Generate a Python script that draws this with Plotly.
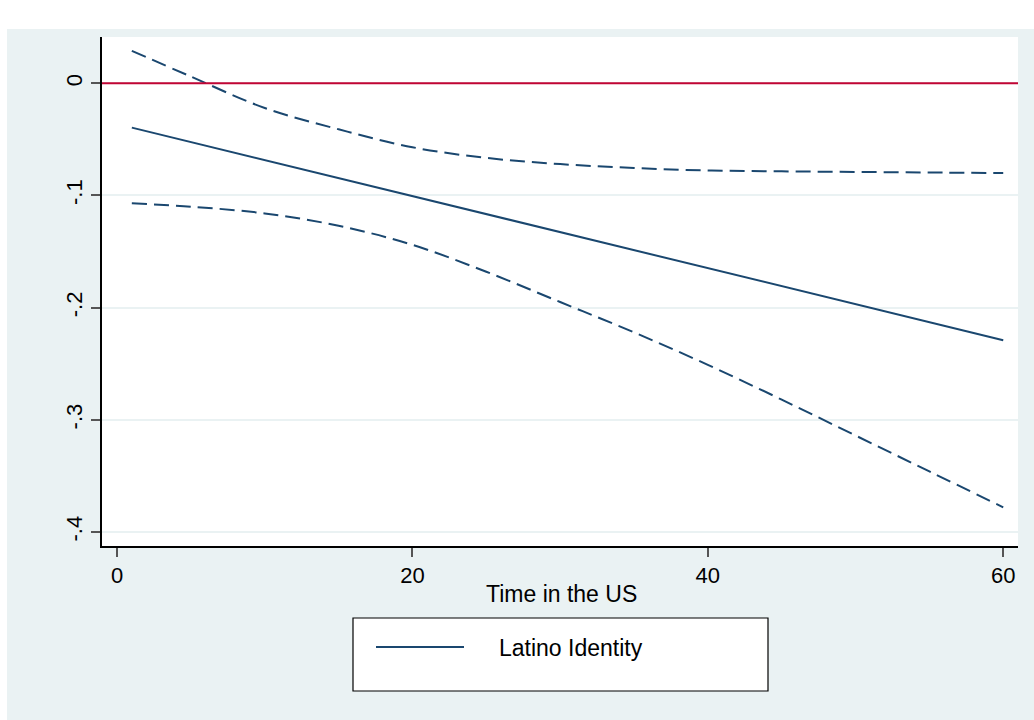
import plotly.graph_objects as go

# Data
time_us = [1, 5, 10, 15, 20, 25, 30, 35, 40, 45, 50, 55, 60]
latino_identity = [-0.0395, -0.0523, -0.0684, -0.0844, -0.1005, -0.1166, -0.1326,
                   -0.1487, -0.1647, -0.1808, -0.1968, -0.2129, -0.2290]
upper_ci = [0.029, 0.006, -0.022, -0.041, -0.057, -0.0665, -0.072, -0.0755,
            -0.0777, -0.0785, -0.079, -0.0795, -0.080]
lower_ci = [-0.107, -0.110, -0.116, -0.127, -0.144, -0.168, -0.195, -0.222,
            -0.251, -0.282, -0.314, -0.346, -0.378]

x_ticks = [0, 20, 40, 60]
y_ticks = [0, -0.1, -0.2, -0.3, -0.4]
y_tick_labels = ["0", "-.1", "-.2", "-.3", "-.4"]

NAVY = "#1A476F"
RED = "#C10534"
BG = "#EAF2F3"
FONT = "Liberation Sans, Arial, sans-serif"

fig = go.Figure()
fig.add_trace(go.Scatter(x=time_us, y=upper_ci, mode="lines", line_shape="spline",
                         line=dict(color=NAVY, width=2, dash="15px,7px"), showlegend=False))
fig.add_trace(go.Scatter(x=time_us, y=lower_ci, mode="lines", line_shape="spline",
                         line=dict(color=NAVY, width=2, dash="15px,7px"), showlegend=False))
fig.add_trace(go.Scatter(x=time_us, y=latino_identity, mode="lines",
                         line=dict(color=NAVY, width=2), name="Latino Identity",
                         showlegend=False))

shapes = [
    # reference line at zero
    dict(type="line", xref="paper", yref="y", x0=0, x1=1, y0=0, y1=0,
         line=dict(color=RED, width=2), layer="above"),
    # white strips at top and left of the page
    dict(type="rect", xref="paper", yref="paper", x0=-0.2, x1=1.1,
         y0=(546 - 29) / 509, y1=1.2, fillcolor="white", line=dict(width=0), layer="below"),
    dict(type="rect", xref="paper", yref="paper", x0=-0.2, x1=(7 - 102) / 916,
         y0=-0.5, y1=1.2, fillcolor="white", line=dict(width=0), layer="below"),
    # legend box
    dict(type="rect", xref="paper", yref="paper",
         x0=(353 - 102) / 916, x1=(768 - 102) / 916,
         y0=(546 - 691) / 509, y1=(546 - 618) / 509,
         fillcolor="white", line=dict(color="black", width=1.2), layer="above"),
    # legend sample line
    dict(type="line", xref="paper", yref="paper",
         x0=(376 - 102) / 916, x1=(464 - 102) / 916,
         y0=(546 - 647) / 509, y1=(546 - 647) / 509,
         line=dict(color=NAVY, width=2), layer="above"),
]

annotations = [
    dict(text="Time in the US", xref="paper", yref="paper",
         x=(561 - 102) / 916, y=(546 - 594) / 509, xanchor="center", yanchor="middle",
         showarrow=False, font=dict(family=FONT, size=23, color="black")),
    dict(text="Latino Identity", xref="paper", yref="paper",
         x=(497 - 102) / 916, y=(546 - 648) / 509, xanchor="left", yanchor="middle",
         showarrow=False, font=dict(family=FONT, size=23, color="black")),
]

fig.update_layout(
    width=1034, height=720,
    margin=dict(l=102, r=16, t=37, b=174),
    paper_bgcolor=BG, plot_bgcolor="white",
    font=dict(family=FONT, size=22, color="black"),
    shapes=shapes, annotations=annotations,
    showlegend=False,
)
fig.update_xaxes(range=[-1.02, 61.0], tickvals=x_ticks, showgrid=False, zeroline=False,
                 showline=True, linecolor="black", linewidth=1.5,
                 ticks="outside", ticklen=9, tickwidth=1.5, tickcolor="#555555",
                 tickfont=dict(family=FONT, size=22, color="black"))
fig.update_yaxes(range=[-0.4125, 0.0413], tickvals=y_ticks, ticktext=y_tick_labels,
                 tickangle=-90, showgrid=True, gridcolor=BG, gridwidth=1.5, zeroline=False,
                 showline=True, linecolor="black", linewidth=1.5,
                 ticks="outside", ticklen=9, tickwidth=1.5, tickcolor="#555555",
                 tickfont=dict(family=FONT, size=22, color="black"))

fig.write_html("out.html")
